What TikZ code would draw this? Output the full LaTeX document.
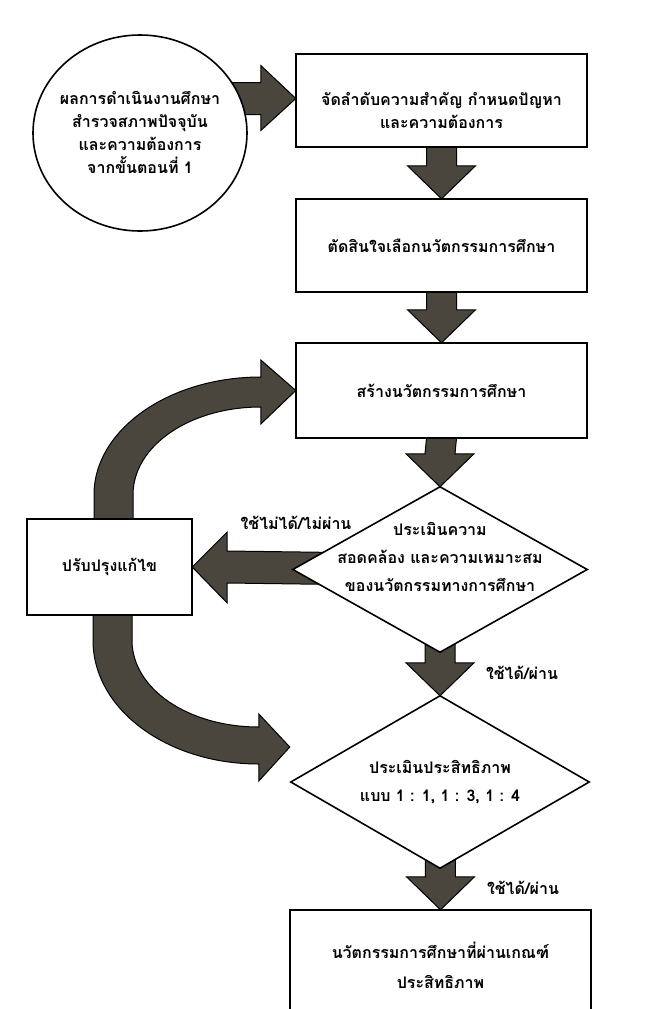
\documentclass[tikz,border=0pt]{standalone}
\usepackage{fontspec}
\newfontfamily\thaifont[Script=Thai]{Loma}
\usetikzlibrary{shapes.geometric,calc}
\definecolor{arrowfill}{RGB}{74,70,62}
\newcommand\vblk[2]{\draw[blk] ($(#1)+(-15,0)$) -- ($(#2)+(-15,-33)$) -- ($(#2)+(-34,-33)$) -- (#2) -- ($(#2)+(34,-33)$) -- ($(#2)+(15,-33)$) -- ($(#1)+(15,0)$) -- cycle;}
\begin{document}
\begin{tikzpicture}[x=1pt,y=-1pt,
  thai/.style={font=\thaifont\bfseries\fontsize{16}{23}\selectfont},
  shapebox/.style={inner sep=0pt, rectangle},
  outline/.style={line width=1.6pt, fill=white, line join=miter},
  txt/.style={thai, align=center, inner sep=0pt},
  blk/.style={fill=arrowfill, draw=black, line width=1pt, line join=miter}]
\useasboundingbox (0,0) rectangle (671,1009);
\clip (0,0) rectangle (671,1009);
% shape nodes (outlines drawn later, on top of the block arrows)
\path
  node[shapebox, minimum width=291pt, minimum height=93pt] (b1) at (441.5,100.5) {}
  node[shapebox, minimum width=291pt, minimum height=93pt] (b2) at (441.5,245.5) {}
  node[shapebox, minimum width=291pt, minimum height=95pt] (b3) at (441.5,390.5) {}
  node[shapebox, minimum width=165pt, minimum height=96pt] (fix) at (109.5,567) {}
  node[diamond, minimum width=294pt, minimum height=165pt, inner sep=0pt] (d1) at (440,569.5) {}
  node[diamond, minimum width=298pt, minimum height=172pt, inner sep=0pt] (d2) at (440,782) {}
  node[shapebox, minimum width=301pt, minimum height=130pt] (fin) at (440.5,975) {}
  node[ellipse, minimum width=214pt, minimum height=196pt, inner sep=0pt] (c) at (140,133) {};
% coordinates
\coordinate (h0) at ($(b1.west)+(-100,-2)$);
\coordinate (h1) at ($(b1.west)+(0,-2)$);
\coordinate (h2) at ($(d1.west)+(45,-1)$);
\coordinate (a4) at ($(d1.south)+(0,-25)$);
\coordinate (a5) at ($(d2.south)+(0,-25)$);
\coordinate (t1) at (b3.west);
\coordinate (t2) at ($(d2.west)+(-1,-35)$);
% block arrows
\draw[blk] ($(h0)+(0,-16)$) -- ($(h1)+(-35,-16)$) -- ($(h1)+(-35,-33)$) -- (h1) -- ($(h1)+(-35,32)$) -- ($(h1)+(-35,16)$) -- ($(h0)+(0,16)$) -- cycle;
\vblk{b1.south}{b2.north}
\vblk{b2.south}{b3.north}
\vblk{b3.south}{d1.north}
\vblk{a4}{d2.north}
\vblk{a5}{fin.north}
\draw[blk] ($(h2)+(0,-16)$) -- ($(fix.east)+(35,-16)$) -- ($(fix.east)+(35,-35)$) -- (fix.east) -- ($(fix.east)+(35,36)$) -- ($(fix.east)+(35,16)$) -- ($(h2)+(0,16)$) -- cycle;
% upper curved arrow
\draw[blk] ($(fix.north)+(23.5,11)$) -- ($(fix.north)+(-15.5,11)$) -- ($(fix.north)+(-15.5,-24)$)
  .. controls ($(fix.north)+(-15.5,-89)$) and ($(t1)+(-127,-13.5)$) .. ($(t1)+(-35,-13.5)$)
  -- ($(t1)+(-35,-30.5)$) -- (t1) -- ($(t1)+(-35,33.5)$) -- ($(t1)+(-35,16.5)$)
  .. controls ($(t1)+(-106,16.5)$) and ($(fix.north)+(23.5,-73)$) .. ($(fix.north)+(23.5,-24)$) -- cycle;
% lower curved arrow
\draw[blk] ($(fix.south)+(-16.5,-10)$) -- ($(fix.south)+(-16.5,25)$)
  .. controls ($(fix.south)+(-16.5,94)$) and ($(t2)+(-123,17)$) .. ($(t2)+(-31,17)$)
  -- ($(t2)+(-31,34)$) -- (t2) -- ($(t2)+(-31,-33)$) -- ($(t2)+(-31,-20)$)
  .. controls ($(t2)+(-101,-20)$) and ($(fix.south)+(22.5,74)$) .. ($(fix.south)+(22.5,25)$)
  -- ($(fix.south)+(22.5,-10)$) -- cycle;
% shapes drawn on top
\draw[outline] (c.center) ellipse [x radius=107, y radius=98];
\draw[outline] (b1.north west) rectangle (b1.south east);
\draw[outline] (b2.north west) rectangle (b2.south east);
\draw[outline] (b3.north west) rectangle (b3.south east);
\draw[outline] (fix.north west) rectangle (fix.south east);
\draw[outline] (fin.north west) rectangle (fin.south east);
\draw[outline] (d1.north) -- (d1.east) -- (d1.south) -- (d1.west) -- cycle;
\draw[outline] (d2.north) -- (d2.east) -- (d2.south) -- (d2.west) -- cycle;
% texts
\node[txt] (ct) at (140,132) {ผลการดำเนินงานศึกษา\\สำรวจสภาพปัจจุบัน\\และความต้องการ\\จากขั้นตอนที่ 1};
\node[txt] (b1t) at (441.5,111) {จัดลำดับความสำคัญ กำหนดปัญหา\\และความต้องการ};
\node[txt] (b2t) at (b2.center) {ตัดสินใจเลือกนวัตกรรมการศึกษา};
\node[txt] (b3t) at (b3.center) {สร้างนวัตกรรมการศึกษา};
\node[txt] (fixt) at (fix.center) {ปรับปรุงแก้ไข};
\node[txt, font=\thaifont\bfseries\fontsize{16}{28}\selectfont] (d1t) at (440,557) {ประเมินความ\\สอดคล้อง และความเหมาะสม\\ของนวัตกรรมทางการศึกษา};
\node[txt, font=\thaifont\bfseries\fontsize{16}{28}\selectfont] (d2t) at (440,782) {ประเมินประสิทธิภาพ\\แบบ 1 : 1, 1 : 3, 1 : 4};
\node[txt, font=\thaifont\bfseries\fontsize{16}{30}\selectfont] (fint) at (440.5,965) {นวัตกรรมการศึกษาที่ผ่านเกณฑ์\\ประสิทธิภาพ};
\node[txt] (l1) at (296,523) {ใช้ไม่ได้/ไม่ผ่าน};
\node[txt] (l2) at (522,673) {ใช้ได้/ผ่าน};
\node[txt] (l3) at (523,888) {ใช้ได้/ผ่าน};
\end{tikzpicture}
\end{document}
